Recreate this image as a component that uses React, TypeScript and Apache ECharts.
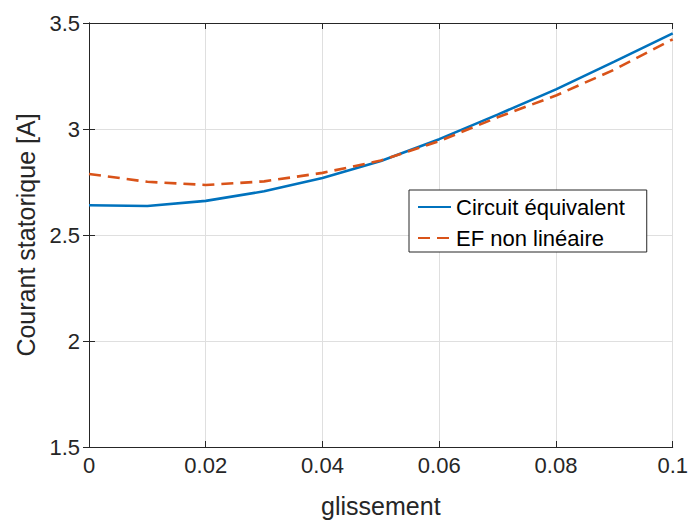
import React, { useEffect, useRef } from "react";
import * as echarts from "echarts";

const slip = [0, 0.01, 0.02, 0.03, 0.04, 0.05, 0.06, 0.07, 0.08, 0.09, 0.1];
const circuitEquivalent = [2.64, 2.637, 2.661, 2.706, 2.769, 2.849, 2.952, 3.068, 3.187, 3.318, 3.451];
const efNonLineaire = [2.788, 2.751, 2.736, 2.753, 2.793, 2.851, 2.943, 3.055, 3.158, 3.28, 3.423];
const seriesNames = ["Circuit équivalent", "EF non linéaire"];
const xTitle = "glissement";
const yTitle = "Courant statorique [A]";

const FONT = "'Liberation Sans', Arial, Helvetica, sans-serif";
const AXIS = "#262626";
const GRID = "#dfdfdf";

export default function App() {
  const ref = useRef<HTMLDivElement>(null);
  useEffect(() => {
    if (!ref.current) return;
    const chart = echarts.init(ref.current, undefined, { renderer: "svg" });
    const pairs = (ys: number[]) => slip.map((x, i) => [x, ys[i]]);
    const tickInside = { show: true, inside: true, length: 6, lineStyle: { color: AXIS, width: 1 } };
    chart.setOption({
      animation: false,
      backgroundColor: "#ffffff",
      grid: { left: 89, right: 16, top: 23, bottom: 75, containLabel: false },
      xAxis: [
        {
          type: "value",
          min: 0,
          max: 0.1,
          interval: 0.02,
          position: "bottom",
          axisLine: { show: true, lineStyle: { color: AXIS, width: 1 } },
          axisTick: tickInside,
          axisLabel: { color: AXIS, fontSize: 22, fontFamily: FONT, margin: 7 },
          splitLine: { show: true, lineStyle: { color: GRID, width: 1 } },
          name: xTitle,
          nameLocation: "middle",
          nameGap: 46,
          nameTextStyle: { color: AXIS, fontSize: 25, fontFamily: FONT },
        },
        {
          type: "value",
          min: 0,
          max: 0.1,
          interval: 0.02,
          position: "top",
          axisLine: { show: true, lineStyle: { color: AXIS, width: 1 } },
          axisTick: tickInside,
          axisLabel: { show: false },
          splitLine: { show: false },
        },
      ],
      yAxis: [
        {
          type: "value",
          min: 1.5,
          max: 3.5,
          interval: 0.5,
          position: "left",
          axisLine: { show: true, lineStyle: { color: AXIS, width: 1 } },
          axisTick: tickInside,
          axisLabel: { color: AXIS, fontSize: 22, fontFamily: FONT, margin: 9 },
          splitLine: { show: true, lineStyle: { color: GRID, width: 1 } },
          name: yTitle,
          nameLocation: "middle",
          nameGap: 48,
          nameRotate: 90,
          nameTextStyle: { color: AXIS, fontSize: 25, fontFamily: FONT },
        },
        {
          type: "value",
          min: 1.5,
          max: 3.5,
          interval: 0.5,
          position: "right",
          axisLine: { show: true, lineStyle: { color: AXIS, width: 1 } },
          axisTick: tickInside,
          axisLabel: { show: false },
          splitLine: { show: false },
        },
      ],
      legend: {
        orient: "vertical",
        left: 409,
        top: 190,
        backgroundColor: "#ffffff",
        borderColor: AXIS,
        borderWidth: 1,
        borderRadius: 0,
        padding: [5, 22, 2, 8],
        itemGap: 7,
        itemWidth: 33,
        itemHeight: 14,
        itemStyle: { opacity: 0 },
        textStyle: { color: "#000000", fontSize: 22, fontFamily: FONT, lineHeight: 24 },
        data: seriesNames,
      },
      series: [
        {
          name: seriesNames[0],
          type: "line",
          data: pairs(circuitEquivalent),
          symbol: "none",
          lineStyle: { color: "#0072BD", width: 2.6 },
          itemStyle: { color: "#0072BD" },
          z: 3,
        },
        {
          name: seriesNames[1],
          type: "line",
          data: pairs(efNonLineaire),
          symbol: "none",
          lineStyle: { color: "#D95319", width: 2.6, type: [12, 7] },
          itemStyle: { color: "#D95319" },
          z: 4,
        },
      ],
    });
    return () => chart.dispose();
  }, []);
  return <div ref={ref} style={{ width: 691, height: 523, position: "absolute", left: 0, top: 0 }} />;
}
